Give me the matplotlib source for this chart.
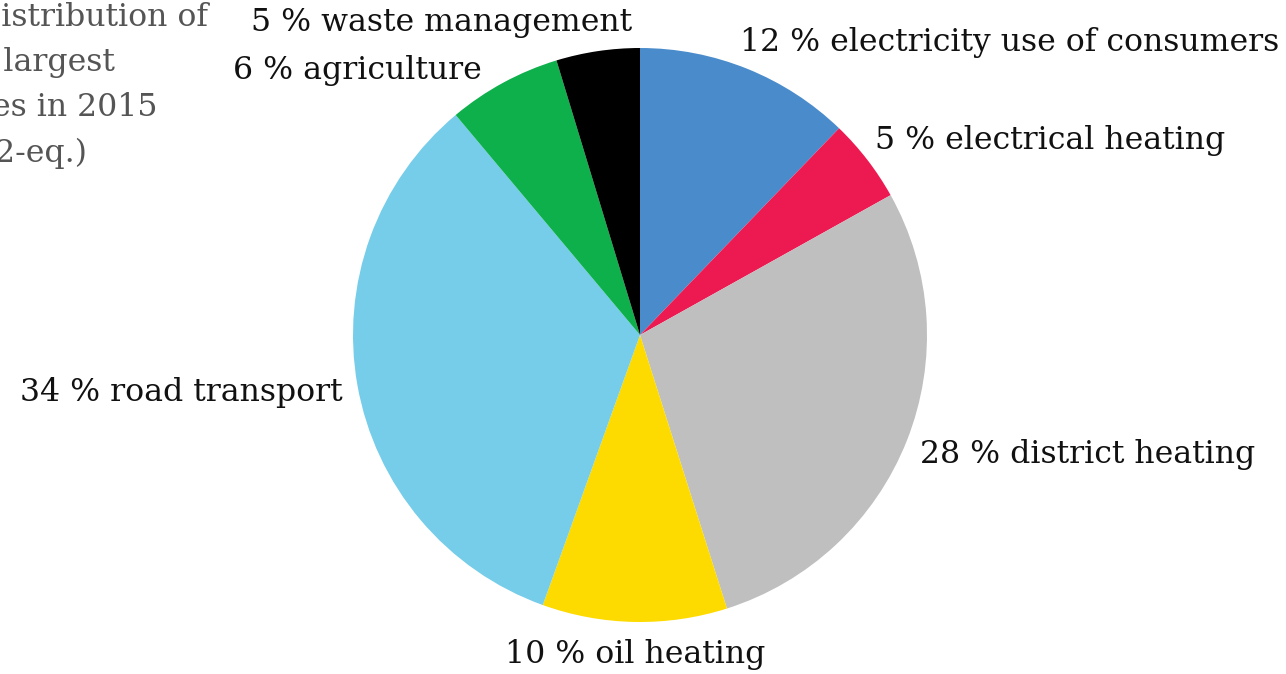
"""
Emission sources share pie — recreation of the reference chart.
"""

import matplotlib.pyplot as plt

W, H = 1286, 674

# --- data -------------------------------------------------------------------
sources = ["electricity use of consumers", "electrical heating", "district heating",
           "oil heating", "road transport", "agriculture", "waste management"]
shares = [12.2, 4.7, 28.2, 10.4, 33.4, 6.4, 4.7]          # measured slice sizes
label_pct = [12, 5, 28, 10, 34, 6, 5]                     # printed percentages
colors = ["#4A8CCB", "#ED1A52", "#BFBFBF", "#FDDB00", "#75CDEA", "#0DB04B", "#000000"]

title_lines = ["Distribution of", "the largest", "sources in 2015", "(CO2-eq.)"]

# label anchor points in pixels (x, y-from-top, horizontal alignment)
label_pos = [(740, 42, "left"), (875, 140, "left"), (920, 455, "left"),
             (505, 655, "left"), (343, 393, "right"), (482, 70, "right"),
             (632, 22, "right")]

plt.rcParams["font.family"] = ["DejaVu Serif"]
FS = 22.7

fig = plt.figure(figsize=(W / 100, H / 100), dpi=100)

# pie centred at (640, 335) px, radius 287 px
cx, cy, r = 640, 335, 287
ax = fig.add_axes([(cx - r) / W, 1 - (cy + r) / H, 2 * r / W, 2 * r / H])
ax.pie(shares, colors=colors, startangle=90, counterclock=False,
       wedgeprops=dict(linewidth=0))
ax.set_xlim(-1, 1)
ax.set_ylim(-1, 1)
ax.axis("off")

def px(x, y):
    return x / W, 1 - y / H

for name, pct, (x, y, ha) in zip(sources, label_pct, label_pos):
    fig.text(*px(x, y), f"{pct} % {name}", ha=ha, va="center",
             fontsize=FS, color="#111111")

# title block, cut off at the left edge as in the source
title_right = [208, 115, 157, 88]
for i, (line, xr) in enumerate(zip(title_lines, title_right)):
    fig.text(*px(xr, 18 + 45 * i), line, ha="right", va="center",
             fontsize=FS, color="#555555")

fig.savefig("out.png", dpi=100)
